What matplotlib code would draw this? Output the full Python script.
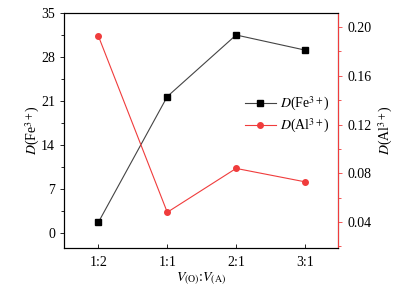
import matplotlib
matplotlib.use('Agg')
import matplotlib.pyplot as plt
from matplotlib.ticker import MultipleLocator

plt.rcParams['font.family'] = ['Liberation Serif', 'DejaVu Serif']
plt.rcParams['mathtext.fontset'] = 'stix'
plt.rcParams['font.size'] = 10

ratios = ['1:2', '1:1', '2:1', '3:1']
d_fe = [1.7, 21.7, 31.5, 29.1]
d_al = [0.1925, 0.048, 0.084, 0.073]

x = list(range(len(ratios)))

fig = plt.figure(figsize=(4.02, 2.89), dpi=100)
ax = fig.add_axes([64/402, 1-248/289, 274/402, 235/289])
ax2 = ax.twinx()

l1, = ax.plot(x, d_fe, color='#444444', lw=0.8, marker='s', ms=4,
              mfc='black', mec='black', label=r'$D$(Fe$^{3+}$)')
l2, = ax2.plot(x, d_al, color='#f03c3c', lw=0.8, marker='o', ms=4,
               mfc='#f03c3c', mec='#f03c3c', label=r'$D$(Al$^{3+}$)')

ax.set_xlim(-0.5, 3.48)
ax.set_xticks(x)
ax.set_xticklabels(ratios)
ax.set_ylim(-2.4, 35)
ax.yaxis.set_major_locator(MultipleLocator(7))
ax.yaxis.set_minor_locator(MultipleLocator(3.5))
ax2.set_ylim(0.0187, 0.2115)
ax2.yaxis.set_major_locator(MultipleLocator(0.04))
ax2.yaxis.set_minor_locator(MultipleLocator(0.02))
ax2.set_yticklabels([f'{v:.2f}' for v in ax2.get_yticks()])

ax.tick_params(axis='x', direction='in', length=3, width=0.6, top=False, pad=6)
ax.tick_params(axis='y', which='both', direction='out', width=0.6)
ax.tick_params(axis='y', which='major', length=3)
ax.tick_params(axis='y', which='minor', length=2)
ax2.tick_params(axis='y', which='both', direction='out', width=0.6, color='#f03c3c')
ax2.tick_params(axis='y', which='major', length=3)
ax2.tick_params(axis='y', which='minor', length=2)

for s in ax.spines.values():
    s.set_linewidth(0.8)
for s in ax2.spines.values():
    s.set_linewidth(0.8)
ax2.spines['right'].set_color('#f03c3c')

ax.set_ylabel(r'$D$(Fe$^{3+}$)', labelpad=-1)
ax2.set_ylabel(r'$D$(Al$^{3+}$)', labelpad=4)
ax.set_xlabel(r'$V_{\mathrm{(O)}}$:$V_{\mathrm{(A)}}$', labelpad=1)

ax.legend(handles=[l1, l2], loc='center right', bbox_to_anchor=(1.0, 0.565),
          frameon=False, handlelength=2.2, handletextpad=0.3, labelspacing=0.3,
          borderaxespad=0.2)

fig.savefig('out.png', dpi=100)
